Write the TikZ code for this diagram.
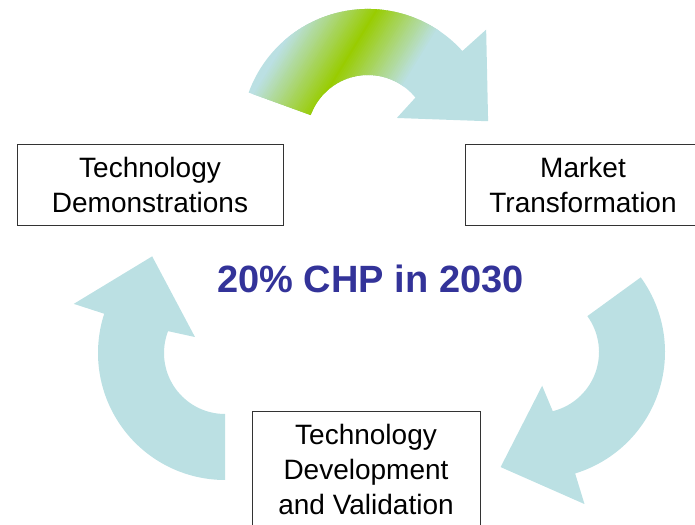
\documentclass[tikz,border=0pt]{standalone}
\usepackage{fontspec}
\setmainfont{Liberation Sans}
\usepackage{tikz}
\definecolor{arrowblue}{RGB}{187,224,227}
\definecolor{arrowgreen}{RGB}{153,204,0}
\definecolor{goalblue}{RGB}{51,51,153}
\tikzstyle{tbox} = [draw=black!80, line width=0.8pt, align=center, inner sep=0pt, font=\fontsize{28}{35}\selectfont]
\tikzstyle{goal} = [text=goalblue, font=\fontsize{38}{46}\selectfont\bfseries]
\tikzstyle{cyc} = [fill=arrowblue]
\newcommand{\cyclearrow}[2]{(#1:127) arc[start angle=#1, end angle=#2, radius=127] -- (#2:159) -- (#2-35:121) -- (#2-10:34) -- (#2-3:61) arc[start angle=#2-3, end angle=#1, radius=61] -- cycle}

\begin{document}
\begin{tikzpicture}[x=1pt, y=1pt]
			\clip (0,0) rectangle (695,524);
			
			\path [cyc, shift={(368,388)}] \cyclearrow{160}{42};
			\path [cyc, shift={(538,172)}] \cyclearrow{36}{-73};
			\path [cyc, shift={(225,171)}] \cyclearrow{-90}{-198};
			\begin{scope}
				\clip [shift={(368,388)}] \cyclearrow{160}{42};
				\foreach \i in {-31,...,31} {
					\pgfmathtruncatemacro{\g}{100-100*abs(\i)/31}
					\fill [arrowgreen!\g!arrowblue, rotate around={-31.5:(345,462)}] (344+2*\i,300) rectangle (347+2*\i,620);
				}
			\end{scope}
			
			\node [tbox, minimum width=266, minimum height=81] (demo) at (150,339.5) {Technology\\Demonstrations};
			\node [tbox, minimum width=236, minimum height=81] (market) at (583,339.5) {Market\\Transformation};
			\node [tbox, minimum width=228, minimum height=117] (devel) at (366,54.5) {Technology\\Development\\and Validation};
			\node [goal, anchor=base] (target) at (370.5,231) {20\% CHP in 2030};
		\end{tikzpicture}
\end{document}
